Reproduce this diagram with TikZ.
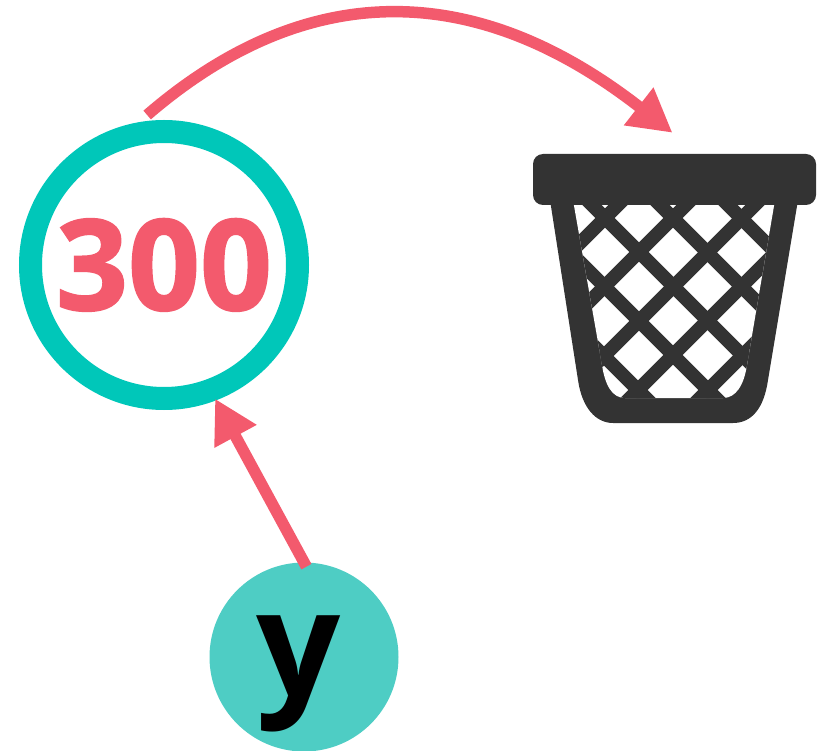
\documentclass[tikz,border=0pt]{standalone}
\usepackage{fontspec}
\setmainfont{Open Sans}
\newfontfamily\heavyfont{Open Sans}[BoldFeatures={FakeBold=1.5}]
\usetikzlibrary{arrows.meta}
\definecolor{ringteal}{HTML}{00C7B9}
\definecolor{softteal}{HTML}{4ECDC4}
\definecolor{coral}{HTML}{F35A6D}
\definecolor{bindark}{HTML}{333333}

\begin{document}
\begin{tikzpicture}[
      x=1pt,y=-1pt,
      ringnode/.style={circle,draw=ringteal,line width=23pt,minimum size=267pt,inner sep=0pt,text=coral,font=\fontsize{126}{126}\heavyfont\bfseries},
      varnode/.style={circle,fill=softteal,minimum size=189pt,inner sep=0pt,text=black,font=\fontsize{148}{148}\selectfont\bfseries},
      arr/.style={-{Triangle[length=43pt,width=45pt,fill=coral]},draw=coral,line width=11.5pt},
      lattice/.style={bindark,line width=13.5pt}
    ]
      \useasboundingbox (0,0) rectangle (825,751);
      \node[ringnode] (ring) at (164,265) {\raisebox{-45pt}[0pt][0pt]{300}};
      \node[varnode] (var) at (304,657) {\raisebox{-39pt}[0pt][0pt]{y}\hspace*{10pt}};
      \node[inner sep=0pt,minimum width=283pt,minimum height=269pt] (bin) at (674.5,288.5) {};
      \fill[bindark] (550,200) -- (578,380) .. controls (582,408) and (596,423) .. (613,423) -- (733,423) .. controls (752,423) and (764,408) .. (768,380) -- (798,200) -- cycle;
      \begin{scope}
        \clip (573,200) -- (602,365) .. controls (605,385) and (612,398) .. (625,398) -- (723,398) .. controls (736,398) and (744,385) .. (747,365) -- (775,200) -- cycle;
        \fill[white] (560,200) rectangle (790,400);
        \foreach \c in {248,318,387,455,523}
          \draw[lattice] (\c+180,180) -- (\c+420,420);
        \foreach \s in {823,891,960,1028,1098}
          \draw[lattice] (\s-180,180) -- (\s-420,420);
      \end{scope}
      \fill[bindark,rounded corners=10pt] (533,154) rectangle (816,205);
      \draw[arr,shorten <=11pt] (ring.100) .. controls +(160,-138) and +(-205,-160) .. ([shift={(-2,-21)}]bin.north);
      \draw[arr,shorten <=-5pt,shorten >=-2pt] (var.90) -- (ring.-69);
    \end{tikzpicture}
\end{document}
